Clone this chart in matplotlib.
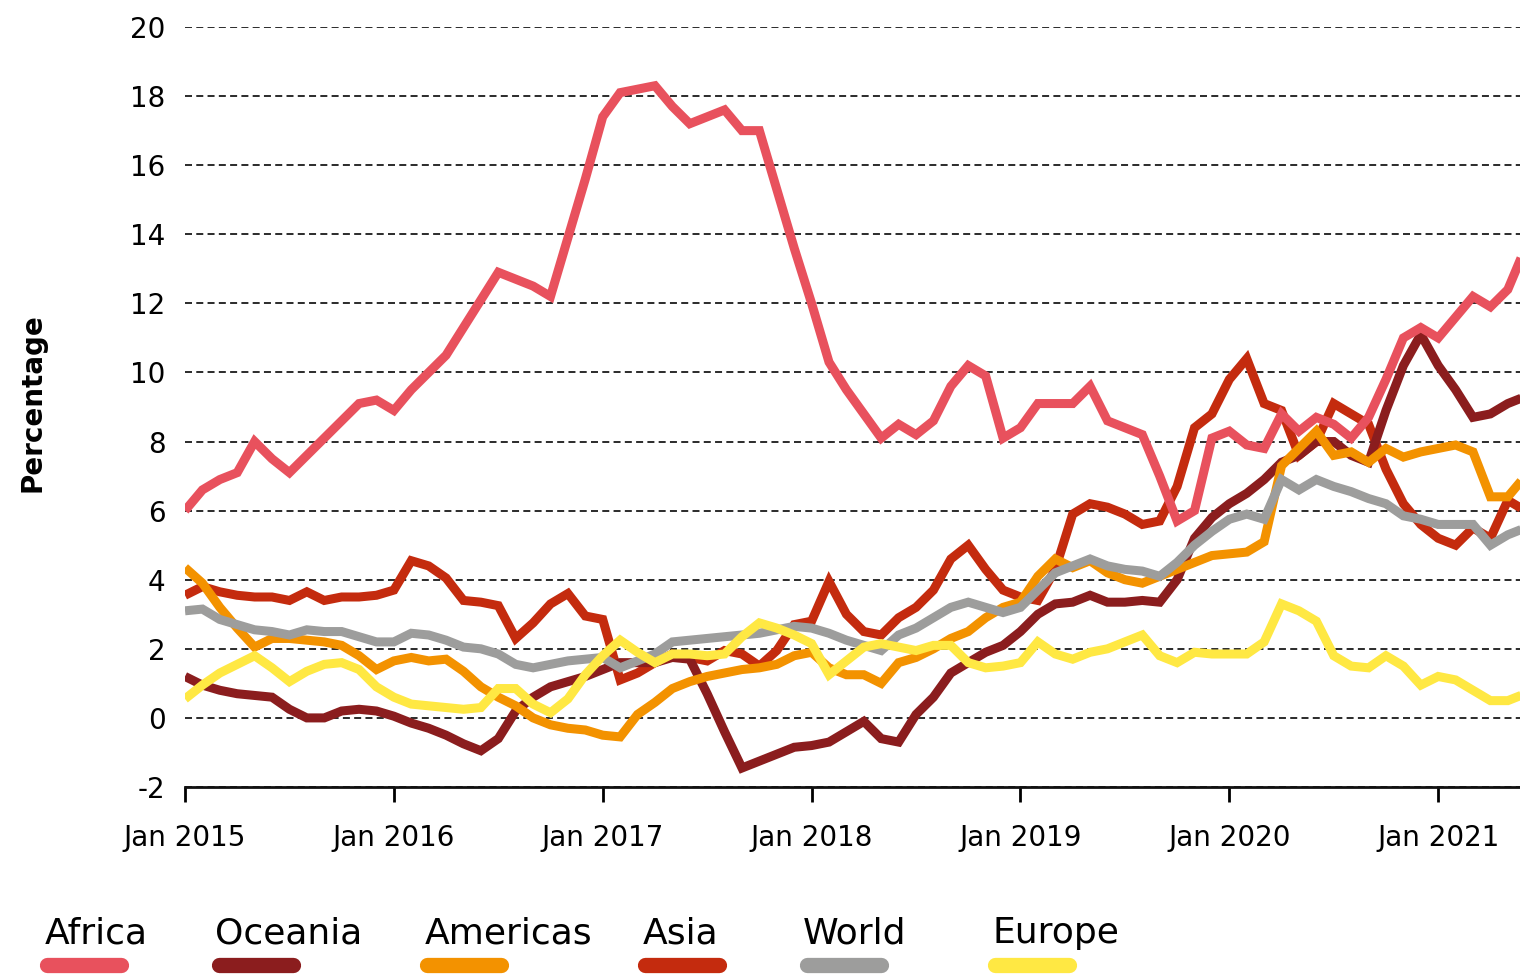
import numpy as np
import matplotlib
matplotlib.use("Agg")
import matplotlib.pyplot as plt
from matplotlib.lines import Line2D

# monthly values, Jan 2015 onwards (percent)
africa = [6.0, 6.6, 6.9, 7.1, 8.0, 7.5, 7.1, 7.6, 8.1, 8.6,
          9.1, 9.2, 8.9, 9.5, 10.0, 10.5, 11.3, 12.1, 12.9, 12.7,
          12.5, 12.2, 13.9, 15.6, 17.4, 18.1, 18.2, 18.3, 17.7, 17.2,
          17.4, 17.6, 17.0, 17.0, 15.3, 13.6, 12.0, 10.3, 9.5, 8.8,
          8.1, 8.5, 8.2, 8.6, 9.6, 10.2, 9.9, 8.1, 8.4, 9.1,
          9.1, 9.1, 9.6, 8.6, 8.4, 8.2, 7.0, 5.7, 6.0, 8.1,
          8.3, 7.9, 7.8, 8.8, 8.3, 8.7, 8.5, 8.1, 8.7, 9.8,
          11.0, 11.3, 11.0, 11.6, 12.2, 11.9, 12.4, 13.6]
oceania = [1.2, 0.95, 0.8, 0.7, 0.65, 0.6, 0.25, 0.0, 0.0, 0.2,
           0.25, 0.2, 0.05, -0.15, -0.3, -0.5, -0.75, -0.95, -0.6, 0.2,
           0.6, 0.9, 1.05, 1.2, 1.4, 1.6, 1.6, 1.6, 1.75, 1.7,
           0.7, -0.4, -1.45, -1.25, -1.05, -0.85, -0.8, -0.7, -0.4, -0.1,
           -0.6, -0.7, 0.1, 0.6, 1.3, 1.6, 1.9, 2.1, 2.5, 3.0,
           3.3, 3.35, 3.55, 3.35, 3.35, 3.4, 3.35, 4.0, 5.2, 5.8,
           6.2, 6.5, 6.9, 7.4, 7.6, 8.0, 8.0, 7.6, 7.4, 8.9,
           10.2, 11.1, 10.2, 9.5, 8.7, 8.8, 9.1, 9.3]
americas = [4.35, 3.9, 3.2, 2.6, 2.05, 2.3, 2.3, 2.25, 2.2, 2.1,
            1.8, 1.4, 1.65, 1.75, 1.65, 1.7, 1.35, 0.9, 0.6, 0.35,
            0.0, -0.2, -0.3, -0.35, -0.5, -0.55, 0.1, 0.45, 0.85, 1.05,
            1.2, 1.3, 1.4, 1.45, 1.55, 1.8, 1.9, 1.45, 1.25, 1.25,
            1.0, 1.6, 1.75, 2.0, 2.3, 2.5, 2.9, 3.2, 3.35, 4.1,
            4.6, 4.35, 4.55, 4.2, 4.0, 3.9, 4.1, 4.3, 4.5, 4.7,
            4.75, 4.8, 5.1, 7.3, 7.8, 8.3, 7.6, 7.7, 7.4, 7.8,
            7.55, 7.7, 7.8, 7.9, 7.7, 6.4, 6.4, 7.0]
asia = [3.55, 3.8, 3.65, 3.55, 3.5, 3.5, 3.4, 3.65, 3.4, 3.5,
        3.5, 3.55, 3.7, 4.55, 4.4, 4.05, 3.4, 3.35, 3.25, 2.3,
        2.75, 3.3, 3.6, 2.95, 2.85, 1.1, 1.3, 1.6, 1.85, 1.75,
        1.65, 1.95, 1.85, 1.5, 1.95, 2.7, 2.8, 3.95, 3.0, 2.5,
        2.4, 2.9, 3.2, 3.7, 4.6, 5.0, 4.3, 3.7, 3.5, 3.4,
        4.3, 5.9, 6.2, 6.1, 5.9, 5.6, 5.7, 6.7, 8.4, 8.8,
        9.8, 10.4, 9.1, 8.9, 7.6, 8.0, 9.1, 8.8, 8.5, 7.2,
        6.2, 5.6, 5.2, 5.0, 5.5, 5.2, 6.3, 6.0]
world = [3.1, 3.15, 2.85, 2.7, 2.55, 2.5, 2.4, 2.55, 2.5, 2.5,
         2.35, 2.2, 2.2, 2.45, 2.4, 2.25, 2.05, 2.0, 1.85, 1.55,
         1.45, 1.55, 1.65, 1.7, 1.75, 1.45, 1.65, 1.85, 2.2, 2.25,
         2.3, 2.35, 2.4, 2.45, 2.55, 2.65, 2.6, 2.45, 2.25, 2.1,
         1.95, 2.4, 2.6, 2.9, 3.2, 3.35, 3.2, 3.05, 3.2, 3.7,
         4.2, 4.4, 4.6, 4.4, 4.3, 4.25, 4.1, 4.5, 5.0, 5.4,
         5.75, 5.9, 5.75, 6.9, 6.6, 6.9, 6.7, 6.55, 6.35, 6.2,
         5.85, 5.75, 5.6, 5.6, 5.6, 5.0, 5.3, 5.5]
europe = [0.55, 0.95, 1.3, 1.55, 1.8, 1.45, 1.05, 1.35, 1.55, 1.6,
          1.4, 0.9, 0.6, 0.4, 0.35, 0.3, 0.25, 0.3, 0.85, 0.85,
          0.4, 0.15, 0.55, 1.25, 1.8, 2.25, 1.9, 1.6, 1.85, 1.85,
          1.8, 1.85, 2.35, 2.75, 2.6, 2.4, 2.15, 1.25, 1.65, 2.05,
          2.15, 2.05, 1.95, 2.1, 2.1, 1.6, 1.45, 1.5, 1.6, 2.2,
          1.85, 1.7, 1.9, 2.0, 2.2, 2.4, 1.8, 1.6, 1.9, 1.85,
          1.85, 1.85, 2.2, 3.3, 3.1, 2.8, 1.8, 1.5, 1.45, 1.8,
          1.5, 0.95, 1.2, 1.1, 0.8, 0.5, 0.5, 0.7]

tick_labels = ["Jan 2015", "Jan 2016", "Jan 2017", "Jan 2018",
               "Jan 2019", "Jan 2020", "Jan 2021"]

series = [("Asia", asia, "#C42B0E"),
          ("Oceania", oceania, "#8B1D1E"),
          ("Americas", americas, "#F39200"),
          ("World", world, "#9D9D9C"),
          ("Europe", europe, "#FFE843"),
          ("Africa", africa, "#E8515D")]
legend_order = ["Africa", "Oceania", "Americas", "Asia", "World", "Europe"]

plt.rcParams["font.family"] = ["DejaVu Sans"]
plt.rcParams["axes.unicode_minus"] = False

W, H = 1520, 977
fig = plt.figure(figsize=(W / 100, H / 100), dpi=100)
ax = fig.add_axes([185 / W, 1 - 787 / H, 1 - 185 / W, (787 - 27) / H])

months = np.arange(len(africa))
for name, vals, col in series:
    ax.plot(months, vals, color=col, lw=6.5, solid_joinstyle="miter",
            solid_capstyle="butt")

ax.set_xlim(0, 76.7)
ax.set_ylim(-2, 20)
ax.set_yticks(range(-2, 21, 2))
ax.set_xticks(np.arange(0, 73, 12))
ax.set_xticklabels(tick_labels)

ax.yaxis.grid(True, color="#2b2b2b", lw=1.4, linestyle=(0, (3.6, 2.2)))
ax.set_axisbelow(True)
for s in ["top", "left", "right"]:
    ax.spines[s].set_visible(False)
ax.spines["bottom"].set_linewidth(2)
ax.spines["bottom"].set_color("#111111")

ax.tick_params(axis="y", length=0, pad=14, labelsize=20)
ax.tick_params(axis="x", length=11, width=2, direction="out", pad=16,
               labelsize=20)

fig.text(33 / W, 1 - 403 / H, "Percentage", rotation=90, fontsize=20,
         fontweight="bold", ha="center", va="center")

# legend: name with a coloured bar underneath
colors = {n: c for n, _, c in series}
text_x = [45, 215, 425, 643, 803, 993]
bar_x = [40, 212, 420, 638, 800, 988]
for name, tx, bx in zip(legend_order, text_x, bar_x):
    fig.text(tx / W, 1 - 943 / H, name, fontsize=26, ha="left",
             va="baseline")
    fig.add_artist(Line2D([(bx + 7) / W, (bx + 81) / W],
                          [1 - 965 / H, 1 - 965 / H],
                          color=colors[name], lw=11,
                          solid_capstyle="round", transform=fig.transFigure))

fig.savefig("out.png", dpi=100)
